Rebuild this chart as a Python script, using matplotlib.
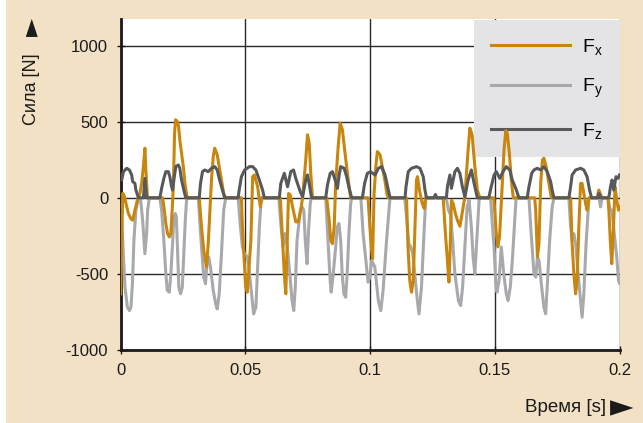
import numpy as np
import matplotlib
matplotlib.use("Agg")
import matplotlib.pyplot as plt
from matplotlib.patches import Rectangle

plt.rcParams['font.family'] = ['Liberation Sans', 'DejaVu Sans']
plt.rcParams['mathtext.default'] = 'regular'
plt.rcParams['axes.unicode_minus'] = False

# time in ms, force in N
fx_t = [0, 0.8, 1.3, 2.1, 3.1, 4.0, 4.8, 5.7, 6.7, 7.7, 8.4, 9.1, 9.7, 10.1, 10.7, 16.8, 17.5, 18.1, 18.8, 19.5,
        20.1, 20.5, 21.1, 21.6, 22.0, 22.7, 23.2, 23.7, 24.4, 25.1, 25.9, 26.7, 31.5, 32.4, 33.3, 34.4, 35.1, 35.7,
        36.4, 37.1, 37.7, 38.7, 39.5, 40.4, 41.3, 42.1, 48.4, 48.8, 49.5, 50.1, 50.8, 52.2, 52.9, 53.6, 54.9, 55.6,
        56.0, 56.5, 64.0, 64.9, 65.6, 66.2, 66.8, 67.3, 68.0, 68.9, 69.6, 70.2, 71.2, 72.2, 72.9, 74.2, 74.9, 75.6,
        76.2, 76.9, 82.6, 83.6, 84.2, 84.9, 85.6, 86.2, 87.2, 88.0, 88.9, 89.8, 90.9, 92.2, 99.2, 99.9, 100.6, 101.0,
        101.6, 102.3, 102.9, 104.0, 104.9, 105.9, 106.7, 107.2, 114.6, 115.2, 115.9, 116.6, 117.3, 117.9, 118.6,
        119.0, 119.9, 120.9, 121.7, 122.2, 129.3, 130.2, 131.0, 131.6, 132.1, 132.6, 133.3, 134.2, 135.0, 136.0,
        136.9, 138.0, 139.3, 140.0, 140.9, 142.0, 143.0, 144.0, 149.6, 150.6, 151.2, 151.9, 152.8, 153.7, 154.4,
        155.0, 155.8, 156.6, 157.4, 166.0, 166.4, 167.1, 167.7, 168.4, 169.1, 169.7, 170.6, 171.7, 172.7, 180.4,
        181.0, 181.7, 182.4, 183.0, 183.7, 184.4, 185.0, 185.7, 186.4, 187.0, 187.7, 191.0, 191.7, 193.0, 195.4,
        195.8, 196.3, 196.9, 197.6, 198.2, 198.9, 199.6, 200]
fx_v = [-631, 29, 18, -37, -103, -136, -147, -81, -15, 29, 95, 205, 326, 183, 0, 0, -81, -169, -235, -257,
        -235, -125, 73, 425, 513, 502, 469, 381, 293, 205, 73, 0, 0, -191, -345, -455, -301, -103,
        117, 271, 326, 282, 205, 117, 29, 0, 0, -191, -411, -587, -620, -279, 139, 150, 73, -15,
        -59, 0, 0, -279, -500, -631, -279, 29, 18, -59, -114, -158, -158, -81, 0, 249, 414, 359,
        161, 0, 0, -147, -279, -301, -191, 95, 337, 491, 447, 315, 161, 0, 0, -191, -345, -400,
        29, 205, 304, 282, 205, 117, 29, 0, 0, -323, -543, -620, -543, -235, 117,
        139, 40, -37, -70, 0, 0, -235, -411, -554, -345, -15, -37, -103, -147, -187,
        -103, 7, 315, 458, 414, 205, 51, 0, 0, -235, -323, -257, 29, 315, 442,
        425, 300, 120, 0, 0, -81, -389, -301, 95, 249, 260, 205, 95, 0, 0,
        -301, -500, -631, -543, -191, 95, 95, 29, -37, -81, 0, 0, 51, 0, 0,
        -103, -279, -433, -191, 73, -15, -81, -60]

fy_t = [0, 0.4, 1.1, 1.7, 2.7, 3.5, 4.1, 4.7, 5.3, 6.1, 7.1, 8.0, 8.8, 9.7, 10.4, 10.8, 11.5, 15.7, 16.4, 17.3,
        18.1, 18.7, 19.5, 20.1, 20.8, 21.3, 21.9, 22.3, 22.8, 23.3, 24.0, 24.7, 25.3, 25.9, 26.4, 26.8, 31.1, 31.7,
        32.5, 33.3, 34.0, 34.7, 35.3, 36.0, 37.1, 38.1, 38.7, 39.5, 40.4, 41.3, 42.1, 47.1, 48.0, 48.8, 49.6, 50.9,
        52.2, 53.3, 54.2, 54.9, 55.6, 56.2, 56.9, 63.4, 64.3, 65.1, 65.8, 66.7, 67.8, 68.7, 69.4, 70.0, 70.7, 71.4,
        72.0, 72.7, 73.4, 74.0, 74.7, 75.4, 76.0, 76.4, 82.2, 83.1, 83.9, 84.4, 85.2, 86.2, 86.8, 87.5, 88.2, 88.8,
        89.5, 90.2, 90.8, 91.5, 92.2, 92.6, 96.3, 97.2, 98.6, 99.2, 99.9, 100.6, 101.9, 103.3, 104.3, 105.2, 106.6,
        107.9, 108.3, 113.9, 114.6, 115.5, 116.3, 117.1, 117.9, 118.8, 119.6, 120.6, 121.6, 122.3, 122.7, 130.5,
        131.4, 132.3, 133.1, 134.0, 135.4, 136.3, 137.1, 138.0, 138.9, 139.7, 140.6, 141.3, 142.0, 142.7, 143.7,
        144.0, 148.3, 149.1, 149.7, 150.4, 150.9, 151.7, 152.6, 153.6, 154.6, 155.3, 156.2, 157.0, 157.8, 158.5,
        159.0, 163.7, 164.4, 165.7, 166.4, 167.1, 167.7, 168.8, 169.7, 170.4, 171.0, 172.0, 173.0, 173.7, 179.7,
        180.4, 181.0, 181.7, 182.4, 183.4, 184.4, 185.0, 185.7, 186.6, 187.7, 188.0, 191.8, 192.4, 193.0, 195.4,
        196.3, 196.9, 197.6, 198.9, 199.6, 200]
fy_v = [-80, -147, -389, -587, -719, -741, -719, -565, -279, -81, -4, -15, -147, -367, -235, -81, 0, 0, -81, -279,
        -500, -609, -620, -500, -301, -125, -103, -125, -345, -587, -631, -587, -367, -147, -15, 0, 0, -147,
        -345, -521, -565, -411, -389, -455, -609, -697, -730, -631, -367, -81, 0, 0, -191, -323, -367, -389,
        -587, -763, -719, -455, -191, -37, 0, 0, -191, -323, -235, -301, -500, -675, -741, -587, -279, -169,
        -81, -59, -81, -279, -433, -191, -37, 0, 0, -279, -521, -620, -500, -323, -191, -169, -279, -500,
        -631, -653, -500, -235, -37, 0, 0, -235, -455, -554, -521, -411, -455, -675, -741, -609, -279,
        -15, 0, 0, -125, -301, -323, -367, -500, -653, -763, -587, -235, -15, 0, 0,
        -81, -114, -279, -500, -675, -708, -587, -323, -59, -15, -191, -389, -500, -301, -15,
        0, 0, -191, -323, -565, -620, -543, -323, -500, -631, -675, -587, -420, -200, -10,
        0, 0, -191, -500, -521, -389, -411, -587, -719, -763, -587, -279, -59, 0, 0,
        -191, -279, -235, -301, -500, -675, -785, -631, -301, -15, 0, 0, -59, 0, 0,
        -81, -81, -191, -389, -543, -560]

fz_t = [0, 0.4, 1.1, 2.4, 3.5, 4.4, 4.8, 5.7, 6.1, 7.1, 9.1, 9.7, 10.4, 15.7, 16.4, 17.3, 18.1, 19.1, 19.7, 20.4,
        20.8, 21.5, 22.1, 23.1, 23.7, 24.4, 25.3, 26.1, 31.5, 32.0, 32.8, 33.7, 35.1, 36.4, 37.7, 38.7, 39.5, 40.4,
        41.7, 47.1, 47.5, 48.4, 49.7, 51.6, 52.9, 54.2, 55.6, 56.9, 57.6, 63.6, 64.2, 65.6, 66.9, 68.2, 69.3, 70.2,
        72.0, 72.9, 74.2, 74.9, 75.8, 76.5, 82.2, 82.9, 84.0, 84.9, 86.2, 86.9, 87.6, 88.2, 89.6, 90.6, 91.6, 92.6,
        96.9, 97.8, 98.9, 100.2, 102.0, 103.3, 104.6, 106.0, 107.3, 108.0, 114.0, 114.4, 115.3, 116.6, 118.6, 120.0,
        121.3, 122.0, 122.6, 125.6, 126.2, 126.8, 130.6, 131.0, 132.0, 132.6, 134.0, 135.0, 136.0, 137.0, 138.0,
        139.3, 140.6, 141.7, 143.0, 147.6, 148.4, 149.7, 150.6, 152.0, 153.3, 154.6, 156.0, 157.0, 158.4, 159.7,
        163.0, 163.7, 164.8, 165.7, 167.0, 168.4, 169.7, 171.0, 172.4, 173.0, 173.7, 179.7, 180.4, 181.0, 182.4,
        184.4, 185.7, 187.0, 188.0, 188.8, 191.5, 191.7, 192.5, 195.7, 196.4, 197.0, 197.7, 198.6, 199.4, 200]
fz_v = [150, 117, 172, 194, 183, 150, 106, 95, 51, 0, 0, 128, 0, 0, 62, 128, 172, 172, 139, 73,
        51, 139, 205, 216, 194, 117, 51, 0, 0, 95, 172, 183, 172, 194, 205, 183, 128, 73,
        0, 0, 51, 139, 183, 205, 205, 183, 117, 51, 0, 0, 95, 161, 73, 172, 183, 128,
        40, 7, 117, 150, 73, 0, 0, 84, 161, 172, 106, 62, 150, 205, 194, 139, 62, 0,
        0, 95, 161, 172, 150, 194, 205, 150, 51, 0, 0, 73, 172, 194, 205, 194,
        139, 51, 0, 0, 22, 0, 0, 73, 150, 62, 172, 194, 161, 73, 7,
        117, 183, 95, 0, 0, 62, 150, 172, 128, 172, 205, 183, 117, 62, 0,
        0, 73, 161, 183, 194, 183, 205, 172, 106, 51, 0, 0, 73, 150, 183,
        194, 183, 139, 51, 0, 0, 29, 0, 0, 73, 117, 51, 139, 128, 150]

x_ticks = [0, 0.05, 0.1, 0.15, 0.2]
x_labels = ['0', '0.05', '0.1', '0.15', '0.2']
y_ticks = [-1000, -500, 0, 500, 1000]

c_fx = '#c8860f'
c_fy = '#a8a9ac'
c_fz = '#58595b'

fig = plt.figure(figsize=(6.43, 4.23), dpi=100)
fig.patch.set_facecolor('white')
bg = Rectangle((6/643, 0), 1, 1, transform=fig.transFigure,
               facecolor='#f3e1c5', edgecolor='none', zorder=-10)
fig.add_artist(bg)

ax = fig.add_axes([120.7/643, 1 - 350/423, 498.8/643, 331/423])
ax.set_zorder(1)
ax.set_facecolor('white')

ax.plot(np.array(fx_t)/1000, fx_v, color=c_fx, lw=2.2, label='$F_x$', zorder=4, solid_joinstyle='round')
ax.plot(np.array(fy_t)/1000, fy_v, color=c_fy, lw=2.2, label='$F_y$', zorder=3, solid_joinstyle='round')
ax.plot(np.array(fz_t)/1000, fz_v, color=c_fz, lw=2.2, label='$F_z$', zorder=5, solid_joinstyle='round')

ax.set_xlim(0, 0.2)
ax.set_ylim(-1000, 1175)
ax.set_xticks(x_ticks)
ax.set_xticklabels(x_labels)
ax.set_yticks(y_ticks)
ax.set_yticklabels([str(v) for v in y_ticks])
ax.grid(True, color='#2a2a2a', lw=1.0, zorder=1)
ax.set_axisbelow(True)
for s in ['top', 'right']:
    ax.spines[s].set_visible(False)
for s in ['left', 'bottom']:
    ax.spines[s].set_linewidth(2)
    ax.spines[s].set_color('#1a1a1a')
ax.tick_params(axis='both', direction='inout', length=6, width=1, labelsize=12, colors='#1a1a1a', pad=6)

leg = ax.legend(loc='upper right', bbox_to_anchor=(1.0, 0.997), borderaxespad=0, frameon=True,
                fancybox=False, facecolor='#e4e4e6', edgecolor='none', framealpha=1,
                fontsize=14, handlelength=4.1, handletextpad=0.6, labelspacing=1.05,
                borderpad=0.85)
leg.get_frame().set_linewidth(0)
leg.set_zorder(2)

# axis titles with arrow heads
fig.text(32/643, 1 - 89/423, 'Сила [N]', rotation=90, ha='center', va='center', fontsize=13,
         color='#1a1a1a')
fig.text(31/643, 1 - 27/423, '►', rotation=90, ha='center', va='center', fontsize=17,
         family='DejaVu Sans', color='#1a1a1a')
fig.text(606/643, 1 - 407/423, 'Время [s]', ha='right', va='center', fontsize=13.5, color='#1a1a1a')
fig.text(622/643, 1 - 408/423, '►', ha='center', va='center', fontsize=22,
         family='DejaVu Sans', color='#1a1a1a')

fig.savefig('out.png', dpi=100, facecolor=fig.get_facecolor())
